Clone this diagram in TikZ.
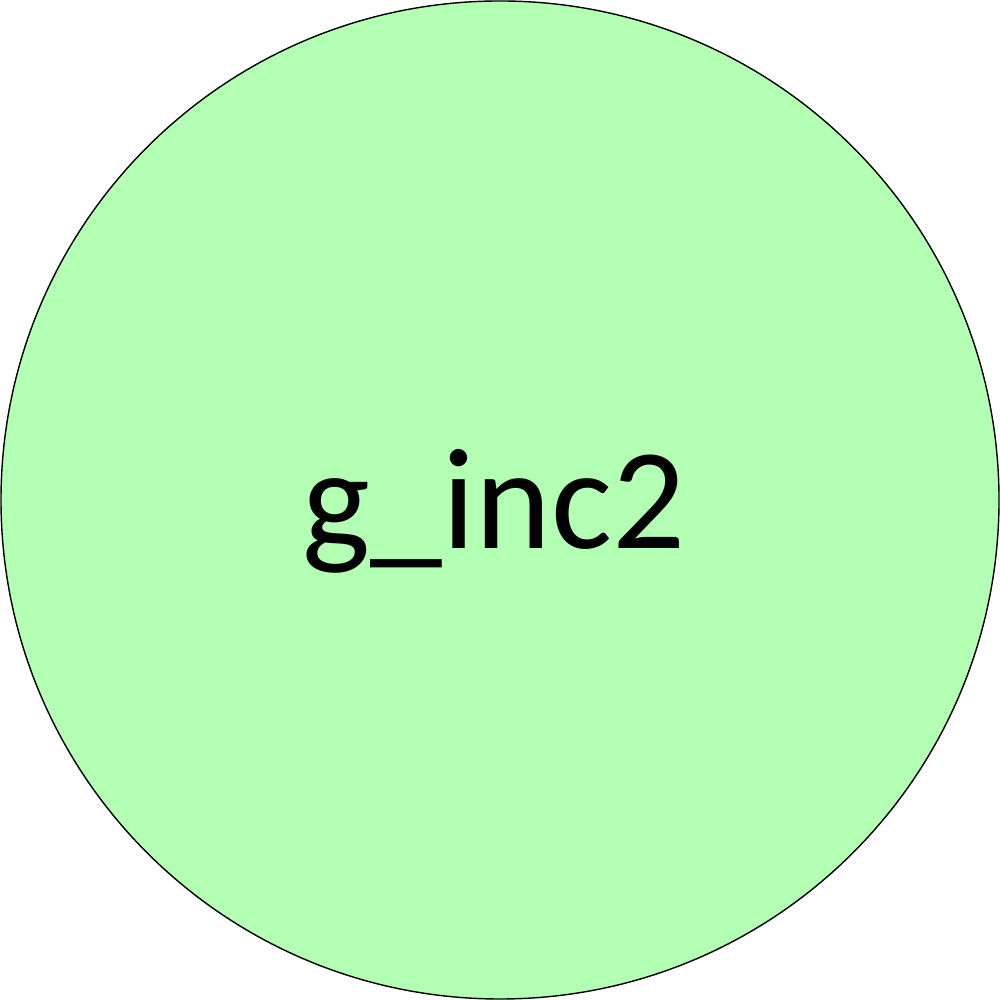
\documentclass[tikz,border=0pt]{standalone}
\usepackage{fontspec}
\setmainfont{Carlito}
\definecolor{nodegreen}{HTML}{B3FFB3}
\tikzset{statenode/.style={circle,draw=black,line width=0.4pt,fill=nodegreen,minimum size=9.98cm,inner sep=0pt}}
\begin{document}
\begin{tikzpicture}
\useasboundingbox (0,0) rectangle (10,10);
\node[statenode] (g) at (5,5) {};
\node[font=\fontsize{41}{49}\selectfont,inner sep=0pt] (t) at (4.94,4.89) {g\_inc2};
\end{tikzpicture}
\end{document}
